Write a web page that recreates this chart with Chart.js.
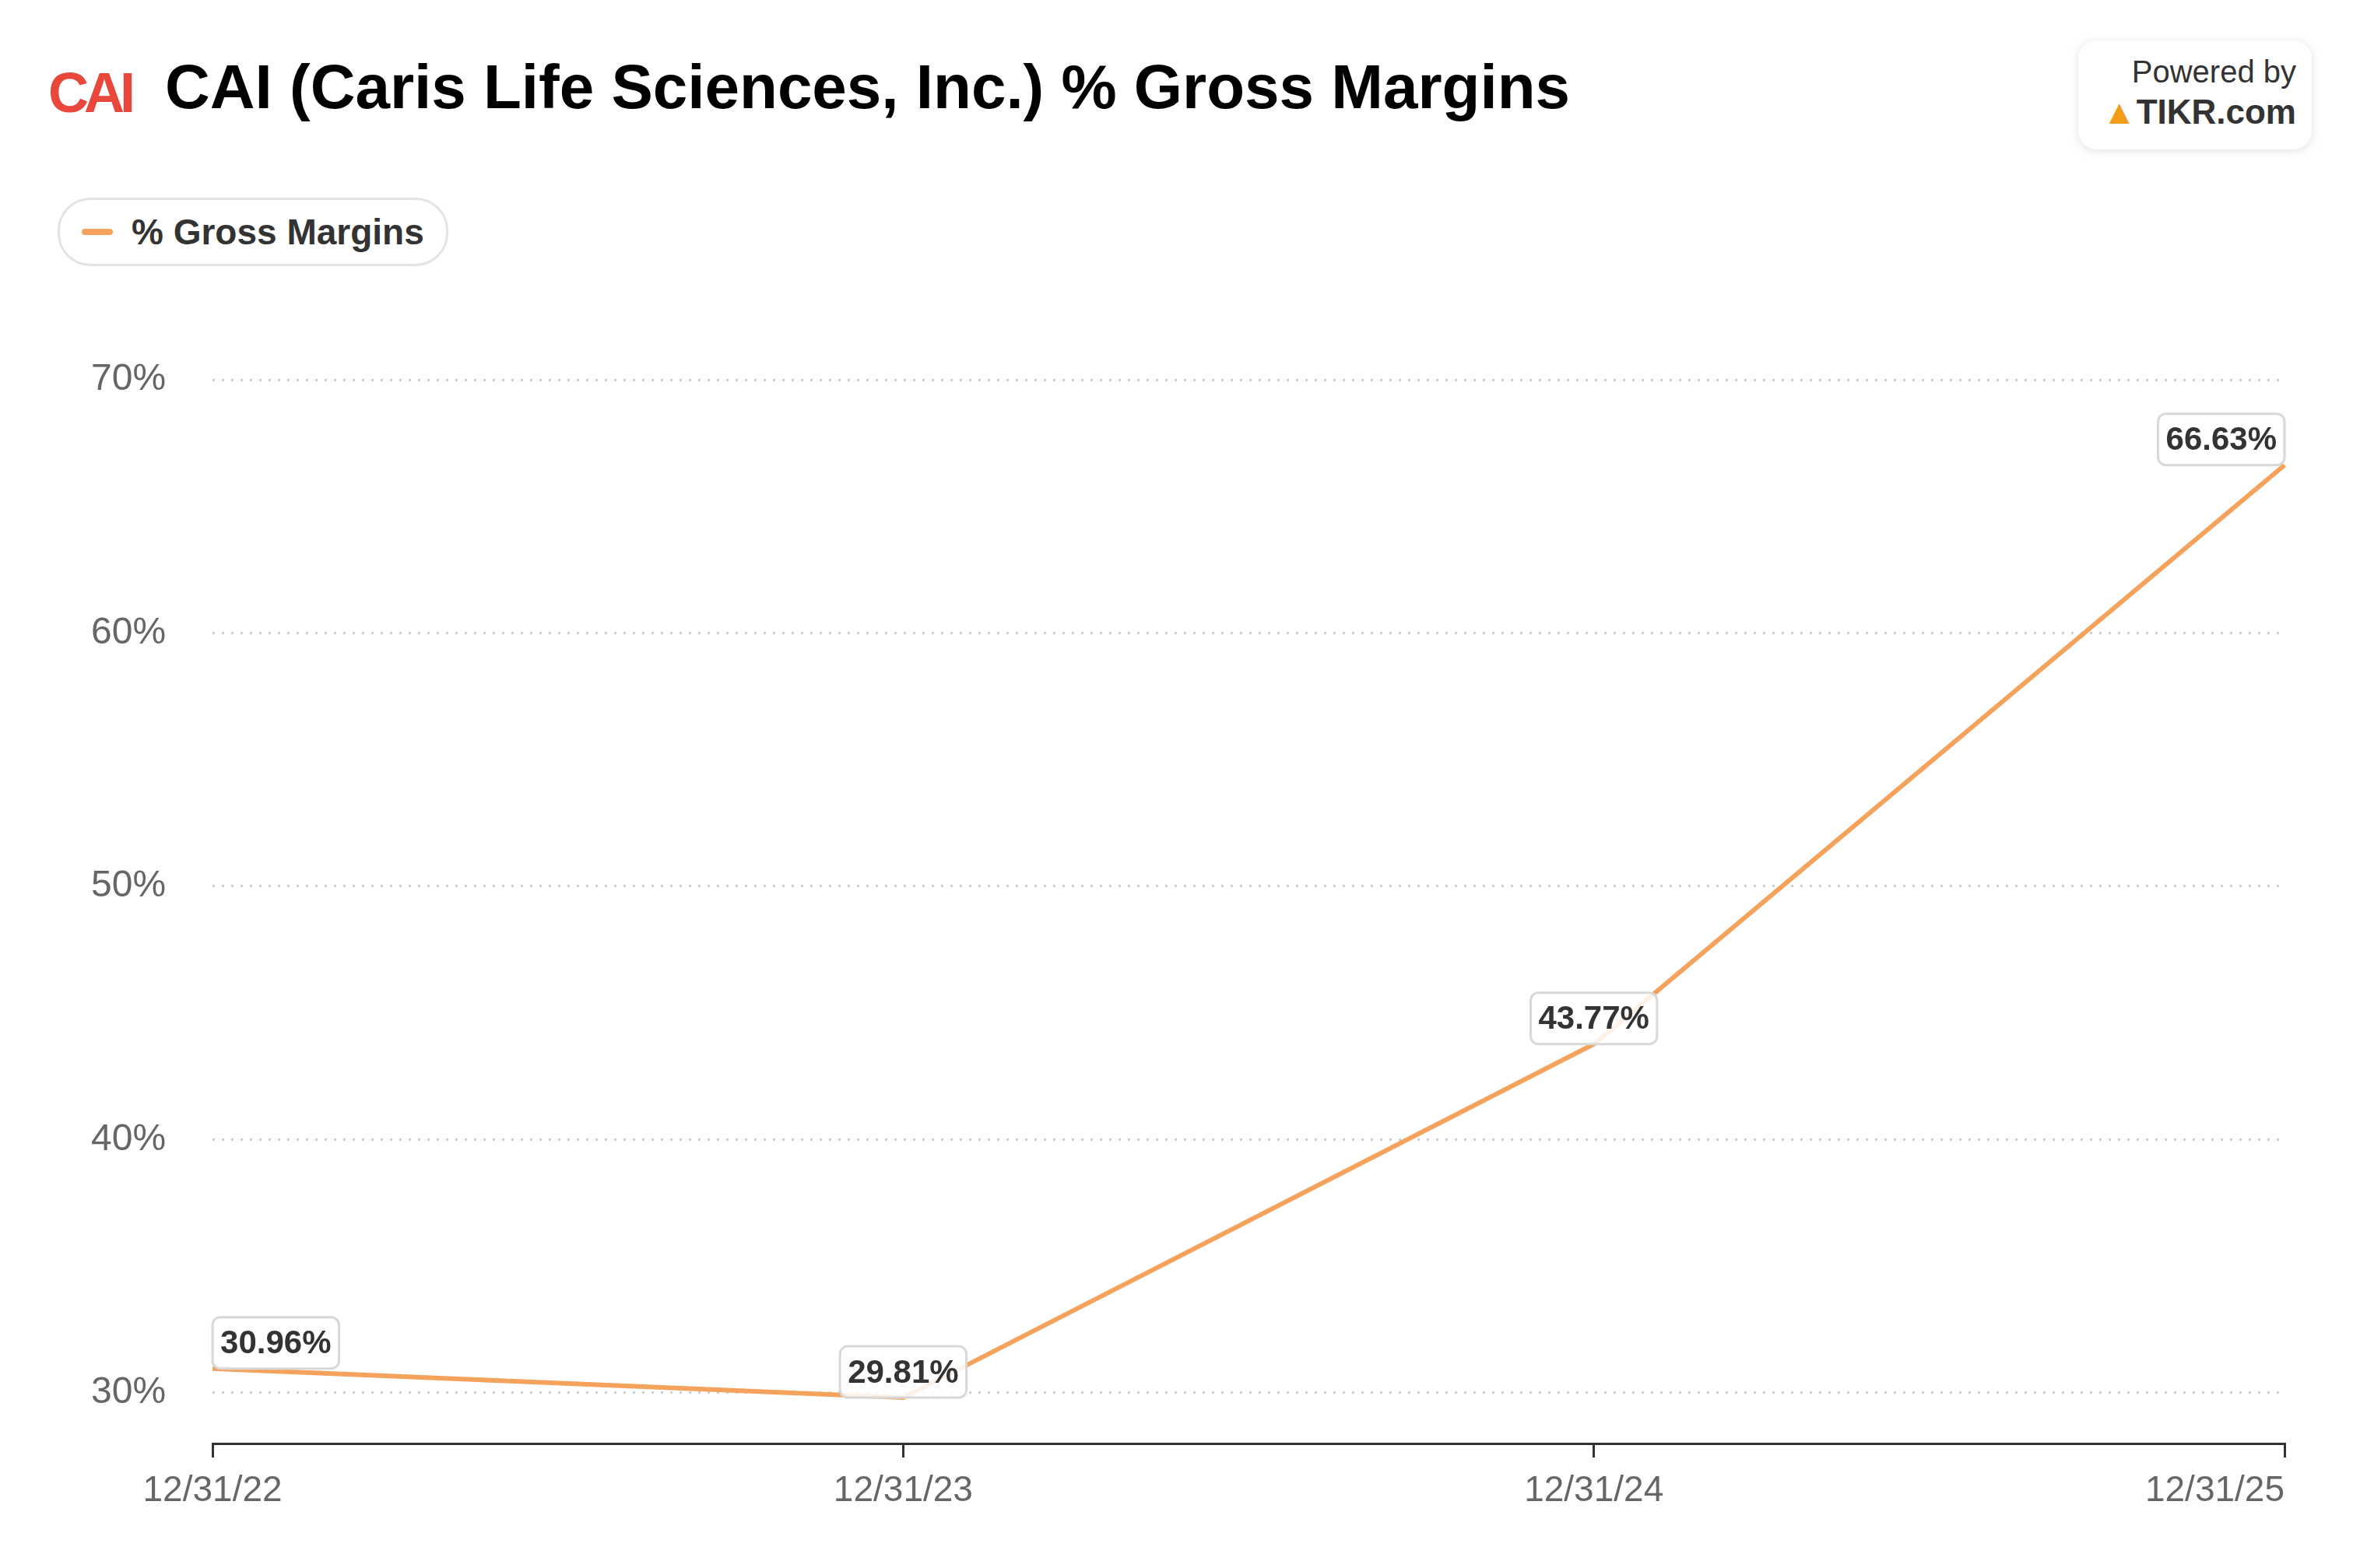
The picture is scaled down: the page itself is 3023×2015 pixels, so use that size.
<!DOCTYPE html>
<html>
<head>
<meta charset="utf-8">
<script src="https://cdn.jsdelivr.net/npm/chart.js@4.4.0/dist/chart.umd.min.js"></script>
<style>
  body { margin: 0; background: #fff; font-family: "Liberation Sans", Arial, sans-serif; }
  #wrap { position: relative; width: 3023px; height: 2015px; }
  #title { position: absolute; left: 212px; top: 66px; font-size: 80px; font-weight: bold; color: #000; }
  #logo { position: absolute; left: 62px; top: 78px; font-size: 72px; font-weight: bold; color: #e8473b; letter-spacing: -6px; }
  #powered { position: absolute; left: 2670px; top: 52px; width: 300px; height: 140px; border-radius: 24px;
    background: #fff; box-shadow: 0 2px 12px rgba(0,0,0,0.12); text-align: right; box-sizing: border-box; padding: 18px 20px 0 0; }
  #powered .a { font-size: 40px; color: #333; }
  #powered .b { font-size: 44px; font-weight: bold; color: #333; margin-top: 4px; }
  #powered .b span { color: #f39c1a; }
  #legend { position: absolute; left: 74px; top: 254px; height: 82px; padding: 0 28px 0 28px; border: 3px solid #e4e4e4;
    border-radius: 42px; display: flex; align-items: center; font-size: 46px; font-weight: bold; color: #333; }
  #legend i { display: inline-block; width: 40px; height: 8px; border-radius: 4px; background: #f5a35c; margin-right: 24px; }
  #c { position: absolute; left: 0; top: 0; }
</style>
</head>
<body>
<div id="wrap">
  <div id="logo">CAI</div>
  <div id="title">CAI (Caris Life Sciences, Inc.) % Gross Margins</div>
  <div id="powered"><div class="a">Powered by</div><div class="b"><span>&#9650;</span>TIKR.com</div></div>
  <div id="legend"><i></i>% Gross Margins</div>
  <canvas id="c" width="3023" height="2015"></canvas>
</div>
<script>
var dates = ["12/31/22", "12/31/23", "12/31/24", "12/31/25"];
var grossMargins = [30.96, 29.81, 43.77, 66.63];
var yTicks = [30, 40, 50, 60, 70];

var FONT = '"Liberation Sans", Arial, sans-serif';

var labelPlugin = {
  id: 'boxLabels',
  afterDatasetsDraw: function(chart) {
    var ctx = chart.ctx, area = chart.chartArea;
    var meta = chart.getDatasetMeta(0);
    ctx.save();
    ctx.font = 'bold 42px ' + FONT;
    meta.data.forEach(function(pt, i) {
      var txt = grossMargins[i].toFixed(2) + '%';
      var w = ctx.measureText(txt).width + 20, h = 66;
      var x = pt.x - w / 2;
      if (x < area.left) x = area.left;
      if (x + w > area.right) x = area.right - w;
      var y = pt.y - h;
      ctx.fillStyle = 'rgba(255,255,255,0.85)';
      ctx.strokeStyle = '#d8d8d8';
      ctx.lineWidth = 3;
      ctx.beginPath();
      ctx.roundRect(x, y, w, h, 10);
      ctx.fill(); ctx.stroke();
      ctx.fillStyle = '#333';
      ctx.textAlign = 'center';
      ctx.textBaseline = 'middle';
      ctx.fillText(txt, x + w / 2, y + h / 2 + 2);
    });
    // x-axis labels: centred, last one kept inside the canvas
    var xs = chart.scales.x;
    ctx.font = '46px ' + FONT;
    ctx.fillStyle = '#666';
    ctx.textBaseline = 'top';
    dates.forEach(function(d, i) {
      var px = xs.getPixelForValue(i);
      ctx.textAlign = i === dates.length - 1 ? 'right' : 'center';
      ctx.fillText(d, px, xs.top + 38);
    });
    ctx.restore();
  }
};

new Chart(document.getElementById('c'), {
  type: 'line',
  data: {
    labels: dates,
    datasets: [{
      data: grossMargins,
      borderColor: '#f5a35c',
      borderWidth: 6,
      pointRadius: 0,
      tension: 0,
      fill: false
    }]
  },
  options: {
    responsive: false,
    animation: false,
    devicePixelRatio: 1,
    layout: { padding: { left: 57, right: 88, top: 488, bottom: 142 } },
    plugins: { legend: { display: false }, tooltip: { enabled: false } },
    scales: {
      x: {
        offset: false,
        grid: { display: true, drawOnChartArea: false, drawTicks: true, tickLength: 18, color: '#333', lineWidth: 3 },
        border: { display: true, color: '#333', width: 3 },
        ticks: { display: false }
      },
      y: {
        min: 28,
        max: 70,
        afterBuildTicks: function(s) { s.ticks = yTicks.map(function(v) { return { value: v }; }); },
        grid: { color: '#cfcfcf', lineWidth: 3, drawTicks: false },
        border: { display: false, dash: [3, 9] },
        ticks: { color: '#666', font: { size: 48, family: FONT }, padding: 60,
          callback: function(v) { return v + '%'; } }
      }
    }
  },
  plugins: [labelPlugin]
});
</script>
</body>
</html>
